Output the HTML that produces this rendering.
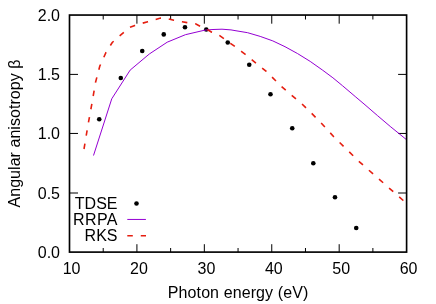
<!DOCTYPE html>
<html>
<head>
<meta charset="utf-8">
<style>
html,body{margin:0;padding:0;background:#fff;}
body{width:436px;height:304px;overflow:hidden;}
svg{display:block;will-change:transform;}
text{font-family:"Liberation Sans",sans-serif;font-size:16px;fill:#000;}
</style>
</head>
<body>
<svg width="436" height="304" viewBox="0 0 436 304">
<rect x="0" y="0" width="436" height="304" fill="#fff"/>
<!-- ticks -->
<g stroke="#000" stroke-width="1" fill="none">
  <path d="M136.92 252.1V244.2M204.34 252.1V244.2M271.76 252.1V244.2M339.18 252.1V244.2"/>
  <path d="M136.92 15.05V23.7M204.34 15.05V23.7M271.76 15.05V23.7M339.18 15.05V23.7"/>
  <path d="M103.21 252.1V248M170.63 252.1V248M238.05 252.1V248M305.47 252.1V248M372.89 252.1V248"/>
  <path d="M103.21 15.05V19.5M170.63 15.05V19.5M238.05 15.05V19.5M305.47 15.05V19.5M372.89 15.05V19.5"/>
  <path d="M69.5 193H78M69.5 133.45H78M69.5 74.4H78"/>
  <path d="M406.6 193H398.1M406.6 133.45H398.1M406.6 74.4H398.1"/>
</g>
<!-- TDSE points -->
<g fill="#000">
  <circle cx="99.25" cy="119.3" r="2.3"/>
  <circle cx="120.8" cy="78" r="2.3"/>
  <circle cx="142.25" cy="51" r="2.3"/>
  <circle cx="163.75" cy="34.4" r="2.3"/>
  <circle cx="185" cy="27.3" r="2.3"/>
  <circle cx="206.25" cy="29.55" r="2.3"/>
  <circle cx="227.75" cy="42.55" r="2.3"/>
  <circle cx="249.25" cy="64.8" r="2.3"/>
  <circle cx="270.5" cy="94.3" r="2.3"/>
  <circle cx="292.25" cy="128.3" r="2.3"/>
  <circle cx="313.3" cy="163.3" r="2.3"/>
  <circle cx="335" cy="197.3" r="2.3"/>
  <circle cx="356.25" cy="228.05" r="2.3"/>
</g>
<!-- RRPA -->
<path id="rrpa" fill="none" stroke="#9400d3" stroke-width="1" stroke-linejoin="round"
 d="M93.5 155.5L111.75 98.8L130.15 70.1L149.3 54L167.2 42.2L185.4 34.7L205 30.1L213 29.5L222 29.2L231 29.9L235 30.6L247.6 32.7L260.2 36.4L272.8 40.9L285 46.7L297.6 53.6L310.2 61.4L322.8 70.3L332.9 77.8L342.6 85.8L355.2 96.5L365 104.8L377.6 115.7L390.2 126.4L406.5 139.7"/>
<!-- RKS -->
<path id="rks" fill="none" stroke="#e51e10" stroke-width="1.6" stroke-dasharray="5.5 7.95"
 d="M84 149L88 125L92 103L95.5 82.5L99.75 66.25L106 52.5L112.25 42.5L119.4 36.2L123.8 32.4L129.9 27.4L134.9 25.4L142.5 23.2L147.8 21.7L155.4 19.5L160.6 18.1L165 17.8L168.2 18.8L173.9 20.3L182.1 21.7L187.1 22.6L195.5 23.8L200.4 26.4L208.5 30.2L211.7 32.2L219.3 35.4L223.5 38.3L230.4 43.3L234.8 46.4L241.3 51.3L245.3 54.3L255 62.3L266.25 71.25L271.75 76.75L281.25 86.25L291.25 95L301.75 103.75L311.25 113L320.75 122.5L333.75 136.75L358.75 161.25L403.25 200.5L406.5 203.5"/>
<!-- frame -->
<rect x="69.5" y="15.05" width="337.1" height="237.05" fill="none" stroke="#000" stroke-width="1.65"/>
<!-- legend -->
<text x="117.5" y="208.8" text-anchor="end">TDSE</text>
<text x="117.9" y="224.6" text-anchor="end" letter-spacing="0.4">RRPA</text>
<text x="117.5" y="240.5" text-anchor="end">RKS</text>
<circle cx="136.5" cy="203.45" r="2.3" fill="#000"/>
<path d="M127.3 219.45H145.9" stroke="#9400d3" stroke-width="1" fill="none"/>
<path d="M127.3 235.8H146" stroke="#e51e10" stroke-width="1.6" stroke-dasharray="5.5 7.95" fill="none"/>
<!-- y tick labels -->
<text x="60" y="258.1" text-anchor="end">0.0</text>
<text x="60" y="198.7" text-anchor="end">0.5</text>
<text x="60" y="139.25" text-anchor="end">1.0</text>
<text x="60" y="80.2" text-anchor="end">1.5</text>
<text x="60" y="20.7" text-anchor="end">2.0</text>
<!-- x tick labels -->
<text x="71.6" y="274.1" text-anchor="middle">10</text>
<text x="139.0" y="274.1" text-anchor="middle">20</text>
<text x="206.4" y="274.1" text-anchor="middle">30</text>
<text x="273.8" y="274.1" text-anchor="middle">40</text>
<text x="341.2" y="274.1" text-anchor="middle">50</text>
<text x="408.6" y="274.1" text-anchor="middle">60</text>
<!-- axis labels -->
<text x="238.1" y="297.8" text-anchor="middle" letter-spacing="0.1">Photon energy (eV)</text>
<text transform="translate(19.6 133.5) rotate(-90)" text-anchor="middle" letter-spacing="0.05">Angular anisotropy β</text>
</svg>
</body>
</html>
